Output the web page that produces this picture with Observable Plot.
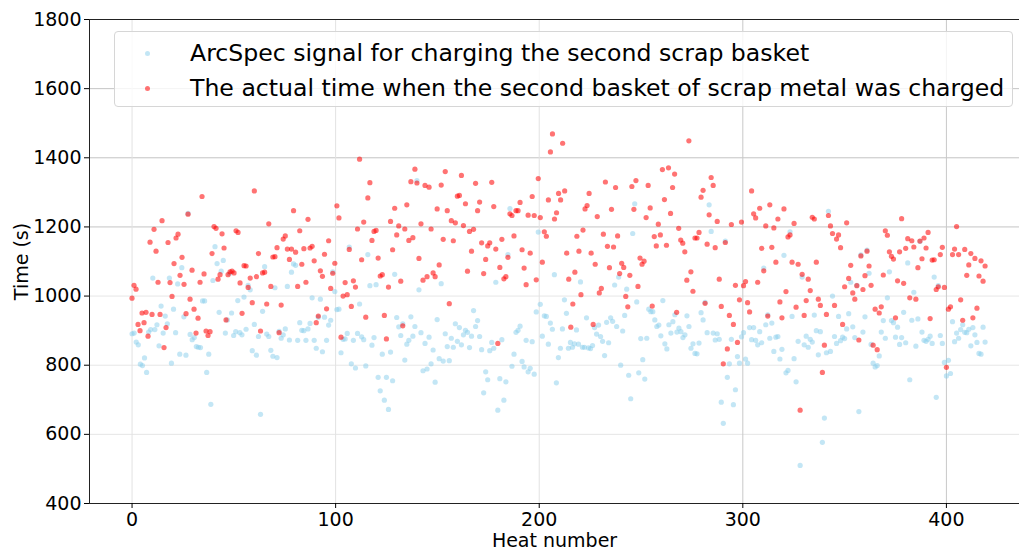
<!DOCTYPE html>
<html><head><meta charset="utf-8">
<script src="https://cdn.jsdelivr.net/npm/d3@7"></script>
<script src="https://cdn.jsdelivr.net/npm/@observablehq/plot@0.6"></script>
<style>
body{margin:0;background:#fff;}
#wrap{position:relative;width:1019px;height:549px;overflow:hidden;}
#legend{position:absolute;left:114px;top:31px;width:899px;height:76px;box-sizing:border-box;border:1px solid #d6d6d6;border-radius:4px;background:rgba(255,255,255,0.8);font-family:"DejaVu Sans";font-size:23.6px;color:#000;}
.item{position:absolute;left:0;height:30px;line-height:30px;white-space:nowrap;}
.item .dot{position:absolute;left:30px;top:12.5px;width:5px;height:5px;border-radius:50%;}
.item .lab{position:absolute;left:75px;top:0;}
</style></head>
<body><div id="wrap"></div>
<script>
// Heat-number bounds of the six stretches the values were read in (left to right)
const segBounds = [-0.5, 55.5, 129.5, 203, 277, 350.5, 419.5];

// ArcSpec signal (blue) - time in seconds, in heat order
const arcspec1 = [891,893,867,859,803,799,821,779,896,903,1052,903,917,856,971,893,942,920,1052,806,962,894,1035,832,1082,940,829,1239,889,874,880,854,852,851,986,986,779,832,687,1045,1143,1094,953,1072,1103,893,931,1065,951,886,897,987,894,888,997];
const arcspec2 = [904,1031,1018,842,918,829,883,658,956,1085,890,883,843,826,1024,822,898,878,888,905,1028,873,1069,1093,1089,872,923,901,900,872,905,921,995,872,849,939,991,839,939,872,916,930,1070,1013,961,962,836,875,876,892,1142,804,872,792,892,977,882,874,798,1120,1030,858,880,1033,765,726,832,699,765,672,838,755,1063];
const arcspec3 = [938,911,886,920,815,861,872,940,884,912,1334,1018,894,784,863,789,881,804,844,751,932,819,1036,812,891,854,813,878,852,920,869,909,859,888,901,895,851,884,958,912,929,883,845,720,781,758,842,866,849,1040,670,761,874,699,752,1120,1253,797,832,895,901,913,811,795,872,781,791,868,774,954,1185,976,884,943];
const arcspec4 = [941,861,922,904,1062,749,822,849,905,989,950,849,866,852,862,902,861,1041,852,852,937,850,848,857,909,890,916,883,869,828,924,865,937,927,1032,912,1055,800,899,944,1020,771,703,1181,1267,983,778,877,816,760,878,962,955,955,931,912,916,885,987,862,847,917,893,926,946,896,907,897,880,888,943,912,849,862,834];
const arcspec5 = [833,864,952,931,982,894,1264,1187,893,873,891,875,693,632,1159,765,804,875,686,729,825,806,882,894,818,806,909,874,909,872,859,897,865,1081,917,946,878,922,840,881,883,818,846,1118,778,785,1186,941,819,752,869,510,1055,859,884,852,875,867,945,900,830,897,577,647,836,1245,840,1000,883,863,941,871,881,877];
const arcspec6 = [905,949,1040,911,880,1031,666,1119,896,940,1133,1066,860,806,795,799,827,896,929,878,995,1070,929,923,881,910,860,880,953,865,1096,758,930,1011,855,934,1158,896,872,869,875,884,863,1055,707,1030,886,863,808,769,814,776,926,868,893,878,903,917,895,894,904,856,909,888,866,834,832,910,867];

// Actual charging time (red) - time in seconds, in heat order
const actual1 = [994,1031,1020,918,900,951,923,953,884,1156,947,1193,1130,1040,947,1218,851,909,1155,1039,999,1094,1168,1179,1060,1112,1034,949,1237,991,1075,962,893,936,1040,1288,1064,899,886,897,1123,1201,1196,1049,1062,1180,1139,931,1062,1070,1072,1067,1189,1184,1038,950,1088];
const actual2 = [1087,1025,1052,981,1304,1056,1123,899,1067,1069,977,1209,1028,1113,1114,1140,894,974,1165,1174,1136,1106,1136,1247,1127,1028,1189,1092,1137,1040,1222,1139,1144,1102,923,942,1073,1057,1121,963,1160,1022,1066,1095,1261,1226,881,1000,1039,1004,1135,970,1044,1026,1194,1396,1105,1214,939,1284,1328,1161,1187,1190,1110,1058,1062,944,876,1026,1216,1134,1254];
const actual3 = [1177,1203,1043,914,1194,1264,1161,1331,1169,1367,1327,1109,1209,1046,1320,1056,1315,1194,1067,1056,1252,1090,1321,1164,1360,1247,978,1218,1160,1212,1289,1291,1349,1204,1267,1072,1187,1130,1193,1326,1247,1272,1154,1065,1106,1145,1154,1329,1259,1136,863,1083,1164,1050,1056,1112,1238,1233,1174,1247,1247,1271,1134,1081,1033,1234,1124,1288,1233,1047,1340,1227,1098,1186];
const actual4 = [1173,1278,1417,1469,1223,1241,1297,1278,1442,1304,1124,1049,910,977,1069,1173,1130,1004,1191,1252,1262,1297,1124,918,1092,1230,1009,1022,1179,1330,1144,1082,1251,1142,1314,1174,1065,1095,1083,999,969,1060,1317,1251,1334,1028,1110,1092,1101,1227,1320,1255,971,1172,1145,1208,1177,1366,1279,1147,1371,1239,1314,1353,953,1196,1162,1153,1128,1046,1449,1070,1014,1168];
const actual5 = [1168,1184,1286,1306,979,1150,1235,1343,1320,1140,1216,1049,970,804,1155,847,944,1207,918,1031,866,989,1214,1030,1042,981,954,1304,1238,1226,1040,1254,1138,1073,1203,942,1264,1141,1197,1098,1223,983,937,1252,1013,1171,1177,1098,1210,968,1092,670,1063,944,987,1049,1016,1228,1223,1098,991,973,779,858,947,1233,1203,1181,973,1165,1177,1140,918,1027];
const actual6 = [1212,1051,1089,1009,991,1030,873,1116,1019,1059,1130,1087,1031,858,962,845,951,969,1061,1189,1176,1128,1115,1107,937,1044,1128,1224,1037,1138,1166,995,1160,1142,991,1082,1159,1108,1168,1139,1184,935,1104,1105,1019,1027,1120,1141,1025,794,962,969,1120,1136,1201,1120,989,930,1135,1060,1090,1123,937,1109,965,1058,1102,1043,1087];

const xTicks = [0, 100, 200, 300, 400];
const yTicks = [400, 600, 800, 1000, 1200, 1400, 1600, 1800];
const seriesNames = ["ArcSpec signal for charging the second scrap basket",
                     "The actual time when the second basket of scrap metal was charged"];

function rows(segs) {
  const out = [];
  segs.forEach((vals, k) => {
    const a = segBounds[k], b = segBounds[k + 1], step = (b - a) / vals.length;
    vals.forEach((v, i) => out.push({heat: a + (i + 0.5) * step, time: v}));
  });
  return out;
}
const blueRows = rows([arcspec1, arcspec2, arcspec3, arcspec4, arcspec5, arcspec6]);
const redRows = rows([actual1, actual2, actual3, actual4, actual5, actual6]);

const xMin = -20.9, xMax = 435.9;
const fmt = d => String(d);

const chart = Plot.plot({
  width: 1019, height: 549,
  marginLeft: 89, marginRight: 0, marginTop: 19, marginBottom: 46,
  style: {fontFamily: "DejaVu Sans", fontSize: "19px", color: "#000", background: "#fff", overflow: "visible"},
  x: {domain: [xMin, xMax]},
  y: {domain: [400, 1800]},
  marks: [
    Plot.gridY(yTicks.filter(d => d < 1200), {stroke: "#e6e6e6", strokeOpacity: 1}),
    Plot.gridY(yTicks.filter(d => d >= 1200), {stroke: "#c4c4c4", strokeOpacity: 1}),
    Plot.gridX(xTicks.filter(d => d < 300), {stroke: "#e2e2e2", strokeOpacity: 1}),
    Plot.gridX(xTicks.filter(d => d >= 300), {stroke: "#c8c8c8", strokeOpacity: 1}),
    Plot.dot(blueRows, {x: "heat", y: "time", r: 2.6, fill: "#87ceeb", fillOpacity: 0.5, stroke: "none"}),
    Plot.dot(redRows, {x: "heat", y: "time", r: 2.6, fill: "#ff0000", fillOpacity: 0.55, stroke: "none"}),
    Plot.ruleY([400, 1800], {stroke: "#222", strokeWidth: 1}),
    Plot.ruleX([xMin], {stroke: "#222", strokeWidth: 1}),
    Plot.axisX(xTicks, {tickSize: 5, tickPadding: 4, tickFormat: fmt, label: "Heat number", labelArrow: "none", labelAnchor: "center", labelOffset: 43, fontSize: 19}),
    Plot.axisY(yTicks, {tickSize: 5, tickPadding: 3, tickFormat: fmt, label: "Time (s)", labelArrow: "none", labelAnchor: "center", labelOffset: 75, fontSize: 19})
  ]
});
const wrap = document.getElementById("wrap");
wrap.appendChild(chart);

const legend = document.createElement("div");
legend.id = "legend";
const colors = ["rgba(135,206,235,0.5)", "rgba(255,0,0,0.55)"];
seriesNames.forEach((name, i) => {
  const it = document.createElement("div");
  it.className = "item";
  it.style.top = (6 + i * 35) + "px";
  const d = document.createElement("span"); d.className = "dot"; d.style.background = colors[i];
  const l = document.createElement("span"); l.className = "lab"; l.textContent = name;
  it.appendChild(d); it.appendChild(l);
  legend.appendChild(it);
});
wrap.appendChild(legend);
</script>
</body></html>
